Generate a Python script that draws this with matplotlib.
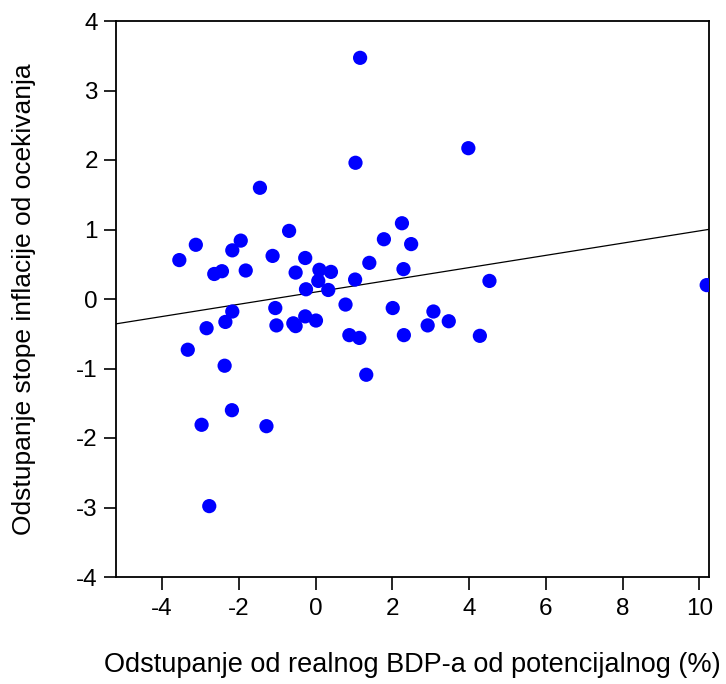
import matplotlib
matplotlib.use("Agg")
import matplotlib.pyplot as plt

# output gap (%) vs. inflation deviation from expectations
gap = [-3.55, -3.12, -2.64, -2.44, -2.17, -1.95, -1.82, -1.12, -0.69, -0.27,
       -0.52, 0.10, 0.40, 0.07, -0.25, 0.33, 1.03, 1.40, 1.78, 2.25,
       2.49, 2.29, 0.78, 2.01, 3.07, 2.92, 2.30, 0.88, 1.14, 1.32,
       -1.05, -1.02, -0.58, -0.52, -0.27, 0.01, -2.17, -2.35, -2.84, -3.33,
       -2.37, -2.18, -2.97, -1.28, -2.77, 1.16, 1.04, -1.45, 3.98, 4.53,
       3.47, 4.28, 10.19]
infl_dev = [0.56, 0.78, 0.36, 0.40, 0.70, 0.84, 0.41, 0.62, 0.98, 0.59,
            0.38, 0.42, 0.39, 0.26, 0.14, 0.13, 0.28, 0.52, 0.86, 1.09,
            0.79, 0.43, -0.08, -0.13, -0.18, -0.38, -0.52, -0.52, -0.56, -1.09,
            -0.13, -0.38, -0.35, -0.39, -0.25, -0.31, -0.18, -0.33, -0.42, -0.73,
            -0.96, -1.60, -1.81, -1.83, -2.98, 3.47, 1.96, 1.60, 2.17, 0.26,
            -0.32, -0.53, 0.20]

# fitted line
fit_intercept = 0.10
fit_slope = 0.088

x_ticks = [-4, -2, 0, 2, 4, 6, 8, 10]
y_ticks = [-4, -3, -2, -1, 0, 1, 2, 3, 4]

plt.rcParams["font.family"] = ["Liberation Sans", "DejaVu Sans"]

fig = plt.figure(figsize=(7.26, 6.84), dpi=100)
ax = fig.add_axes([116 / 726, 1 - 577 / 684, 593 / 726, 556 / 684])

ax.scatter(gap, infl_dev, s=105, color="#0000ff", edgecolor="none", zorder=3)
ax.axline((0, fit_intercept), slope=fit_slope, color="black", lw=0.9, zorder=2)

ax.set_xlim(-5.2, 10.25)
ax.set_ylim(-4, 4)
ax.set_xticks(x_ticks)
ax.set_yticks(y_ticks)
ax.set_xticklabels([str(t) for t in x_ticks])
ax.set_yticklabels([str(t) for t in y_ticks])

for sp in ax.spines.values():
    sp.set_linewidth(1.3)
ax.tick_params(axis="both", direction="out", length=9, width=1.2, labelsize=17.5)
ax.tick_params(axis="x", pad=6)
ax.tick_params(axis="y", pad=4)

ax.set_xlabel("Odstupanje od realnog BDP-a od potencijalnog (%)", fontsize=19.5, va="center")
ax.xaxis.set_label_coords(0.5, -0.158)
ax.set_ylabel("Odstupanje stope inflacije od ocekivanja", fontsize=19, va="center")
ax.yaxis.set_label_coords(-0.155, 0.5)

fig.savefig("out.png", dpi=100)
